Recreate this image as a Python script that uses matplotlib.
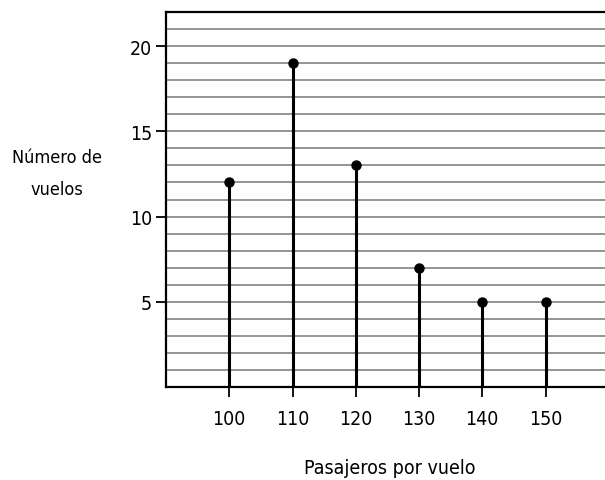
import matplotlib
matplotlib.use("Agg")
import matplotlib.pyplot as plt

# --- data ---
pasajeros = [100, 110, 120, 130, 140, 150]
vuelos = [12, 19, 13, 7, 5, 5]
y_ticks = [5, 10, 15, 20]

plt.rcParams['font.family'] = ['DejaVu Sans']
plt.rcParams['font.stretch'] = 'condensed'

fig = plt.figure(figsize=(6.05, 4.81), dpi=100)
ax = fig.add_axes([0.2744, 0.1933, 0.7256, 0.7797])

# horizontal ruled lines at every unit
for yy in range(1, 22):
    ax.axhline(yy, color='#8c8c8c', linewidth=1.3, zorder=1)

# stems + dots
ax.vlines(pasajeros, 0, vuelos, color='black', linewidth=2.2, zorder=3)
ax.plot(pasajeros, vuelos, 'o', color='black', markersize=6.5, zorder=4)

ax.set_xlim(90, 159.4)
ax.set_ylim(0, 22)
ax.set_xticks(pasajeros)
ax.set_yticks(y_ticks)
ax.tick_params(axis='x', direction='out', length=7, width=1.3, labelsize=14, pad=9)
ax.tick_params(axis='y', direction='out', length=7, width=1.3, labelsize=14, pad=3)

ax.spines['right'].set_visible(False)
for s in ['left', 'bottom', 'top']:
    ax.spines[s].set_linewidth(1.6)

fig.text(0.094, 0.638, "Número de\nvuelos", ha='center', va='center', fontsize=13, linespacing=2.0)
fig.text(0.645, 0.027, "Pasajeros por vuelo", ha='center', va='center', fontsize=14)

fig.savefig("out.png", dpi=100)
